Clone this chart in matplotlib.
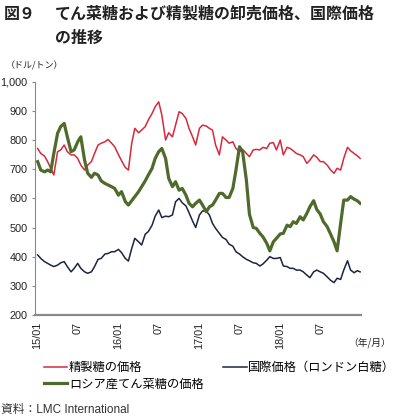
import pandas as pd
import numpy as np
import matplotlib
matplotlib.use('Agg')
import matplotlib.pyplot as plt
from matplotlib.ticker import FuncFormatter

plt.rcParams['font.family'] = ['Liberation Sans', 'Noto Sans CJK JP']

# ── Data (USD/ton, semi-monthly readings 2015/01 - 2018/12) ──────────────────
dates = list(pd.date_range('2015-01-01', periods=96, freq='SMS')) + [pd.Timestamp('2018-12-28')]

refined = [771, 754, 745, 726, 703, 680, 760, 766, 783, 760, 749, 749,
           737, 714, 697, 714, 726, 754, 783, 789, 794, 802, 789, 777,
           750, 729, 706, 697, 789, 840, 825, 834, 846, 869, 891, 914,
           931, 886, 800, 825, 811, 851, 897, 891, 874, 840, 811, 783,
           840, 851, 848, 840, 834, 783, 749, 811, 800, 789, 794, 771,
           760, 768, 754, 743, 766, 768, 766, 775, 771, 789, 791, 766,
           800, 749, 775, 771, 763, 754, 749, 743, 720, 731, 749, 741,
           726, 726, 714, 699, 686, 703, 697, 737, 775, 763, 754, 746,
           737]

london = [406, 394, 383, 377, 371, 366, 371, 379, 383, 366, 348, 360,
          377, 360, 348, 343, 348, 366, 391, 394, 409, 411, 417, 417,
          425, 414, 394, 385, 428, 463, 451, 440, 477, 486, 508, 539,
          560, 534, 539, 537, 543, 588, 600, 585, 574, 551, 522, 500,
          543, 557, 556, 543, 514, 497, 480, 466, 459, 443, 436, 417,
          409, 400, 391, 386, 379, 377, 368, 375, 388, 400, 394, 394,
          397, 368, 366, 360, 360, 354, 354, 348, 337, 328, 348, 354,
          348, 343, 331, 320, 311, 326, 322, 354, 386, 354, 345, 352,
          348]

russia_beet = [726, 697, 691, 697, 691, 754, 823, 846, 857, 811, 760, 766,
               794, 811, 731, 686, 672, 686, 680, 660, 651, 646, 640, 634,
               611, 623, 589, 577, 592, 606, 623, 640, 660, 680, 703, 737,
               760, 771, 737, 669, 640, 657, 628, 634, 611, 583, 571, 583,
               594, 577, 554, 571, 577, 594, 617, 617, 603, 603, 634, 697,
               777, 760, 663, 545, 500, 497, 480, 468, 446, 420, 451, 463,
               478, 480, 508, 503, 520, 514, 537, 526, 548, 571, 592, 562,
               546, 520, 503, 480, 451, 420, 514, 594, 594, 606, 597, 592,
               583]

tick_dates = pd.date_range('2015-01-01', periods=8, freq='6MS')
tick_labels = ['15/01', '07', '16/01', '07', '17/01', '07', '18/01', '07']

legend_labels = ['精製糖の価格', '国際価格（ロンドン白糖）', 'ロシア産てん菜糖の価格']

RED = '#d42a3c'
NAVY = '#1b2442'
GREEN = '#4e6b2b'
AXIS_GRAY = '#8a8a8a'

# ── Figure ────────────────────────────────────────────────────────────────────
W, H = 395, 420
fig = plt.figure(figsize=(W / 100, H / 100), dpi=100)
ax = fig.add_axes([35 / W, 1 - 315 / H, 326 / W, 233.3 / H])

l_red, = ax.plot(dates, refined, color=RED, lw=1.1, label=legend_labels[0])
l_navy, = ax.plot(dates, london, color=NAVY, lw=1.1, label=legend_labels[1])
l_green, = ax.plot(dates, russia_beet, color=GREEN, lw=2.3, label=legend_labels[2])

ax.set_ylim(200, 1000)
ax.set_yticks(np.arange(200, 1001, 100))
ax.yaxis.set_major_formatter(FuncFormatter(lambda v, p: f'{int(v):,}'))
ax.set_xlim(pd.Timestamp('2014-12-20'), pd.Timestamp('2019-01-01'))
ax.set_xticks(tick_dates)
ax.set_xticklabels(tick_labels, rotation=90)

for s in ['top', 'right']:
    ax.spines[s].set_visible(False)
ax.spines['left'].set_color(AXIS_GRAY)
ax.spines['left'].set_linewidth(0.8)
ax.spines['bottom'].set_color(AXIS_GRAY)
ax.spines['bottom'].set_linewidth(1.6)
ax.tick_params(axis='y', length=2.5, width=0.8, color=AXIS_GRAY, pad=3,
               labelsize=7.8, labelcolor='#222222')
ax.tick_params(axis='x', length=0, pad=5, labelsize=7.8, labelcolor='#222222')

# ── Texts ─────────────────────────────────────────────────────────────────────
cjk = ['Noto Sans CJK JP', 'Liberation Sans']
fig.text(4 / W, 1 - 14 / H, '図９', fontsize=11.5, fontweight='bold',
         family=cjk, va='center', ha='left', color='#222222')
fig.text(55 / W, 1 - 14 / H, 'てん菜糖および精製糖の卸売価格、国際価格', fontsize=11.5,
         fontweight='bold', family=cjk, va='center', ha='left', color='#222222')
fig.text(55 / W, 1 - 38 / H, 'の推移', fontsize=11.5, fontweight='bold',
         family=cjk, va='center', ha='left', color='#222222')
fig.text(6 / W, 1 - 66 / H, '（ドル/トン）', fontsize=6.5, family=cjk,
         va='center', ha='left', color='#222222')
fig.text(391 / W, 1 - 343 / H, '（年/月）', fontsize=7, family=cjk,
         va='center', ha='right', color='#222222')
fig.text(1 / W, 1 - 410 / H, '資料：LMC International', fontsize=8.5,
         family=['Liberation Sans', 'Noto Sans CJK JP'],
         va='center', ha='left', color='#333333')

leg = fig.legend(handles=[l_red, l_green, l_navy], ncol=2, frameon=False,
                 loc='upper left', bbox_to_anchor=(44 / W, 1 - 361 / H),
                 prop={'family': cjk, 'size': 8.8}, handlelength=1.9,
                 handletextpad=0.15, columnspacing=1.6, labelspacing=0.3,
                 borderaxespad=0, borderpad=0)

plt.savefig('out.png', dpi=100)
plt.close()
